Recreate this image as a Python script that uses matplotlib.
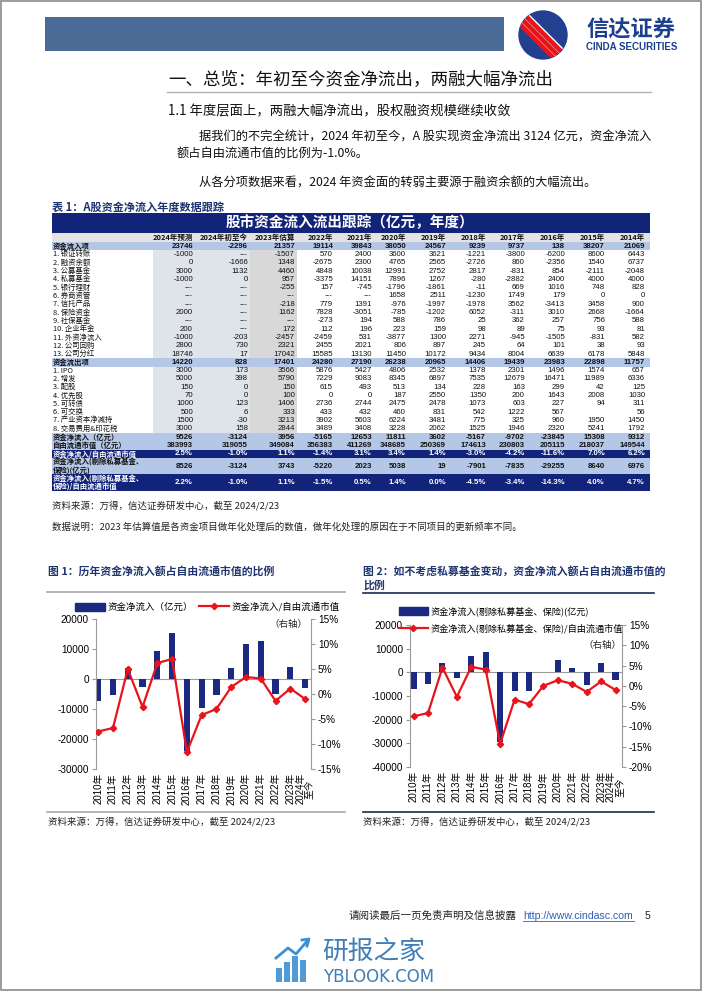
import numpy as np
import matplotlib
matplotlib.use('Agg')
import matplotlib.pyplot as plt
from matplotlib.patches import Rectangle, Circle, Patch
from matplotlib.lines import Line2D
from matplotlib.ticker import FuncFormatter

plt.rcParams['font.family'] = ['Noto Sans CJK SC', 'DejaVu Sans']
NUM_FONT = ['Liberation Sans', 'Noto Sans CJK SC']

W, H = 702, 991

# ---------------- 表 1 数据 ----------------
col_labels = ['2024年预测', '2024年初至今', '2023年估算', '2022年', '2021年', '2020年',
              '2019年', '2018年', '2017年', '2016年', '2015年', '2014年']
D = None   # 表中的 "---"

inflow_total = [23746, -2296, 21357, 19114, 39843, 38050, 24567, 9239, 9737, 138, 38207, 21069]
yinzheng = [-1000, D, -1507, 570, 2400, 3600, 3621, -1221, -3800, -6200, 8600, 6443]
rongzi = [0, -1666, 1348, -2675, 2300, 4765, 2565, -2726, 860, -2356, 1540, 6737]
gongmu = [3000, 1132, 4460, 4848, 10038, 12991, 2752, 2817, -831, 854, -2111, -2048]
simu = [-1000, 0, 957, -3375, 14151, 7896, 1267, -280, -2882, 2400, 4000, 4000]
licai = [D, D, -255, 157, -745, -1796, -1861, -11, 669, 1016, 748, 828]
quanshang = [D, D, D, D, D, 1658, 2511, -1230, 1749, 179, 0, 0]
xintuo = [D, D, -218, 779, 1391, -976, -1997, -1978, 3562, -3413, 3458, 900]
baoxian = [2000, D, 1162, 7828, -3051, -785, -1202, 6052, -311, 3010, 2668, -1664]
shebao = [D, D, D, -273, 194, 588, 786, 25, 362, 257, 756, 588]
nianjin = [200, D, 172, 112, 196, 223, 159, 98, 89, 75, 93, 81]
waizi = [-1000, -203, -2457, -2459, 531, -3877, 1300, 2271, -945, -1505, -831, 582]
huigou = [2800, 730, 2321, 2455, 2021, 806, 897, 245, 64, 101, 38, 93]
fenhong = [18746, 17, 17042, 15585, 13130, 11450, 10172, 9434, 8004, 6639, 6178, 5848]

outflow_total = [14220, 828, 17401, 24280, 27190, 26238, 20965, 14406, 19439, 23983, 22898, 11757]
ipo = [3000, 173, 3566, 5876, 5427, 4806, 2532, 1378, 2301, 1496, 1574, 657]
zengfa = [5000, 398, 5790, 7229, 9083, 8345, 6897, 7535, 12679, 16471, 11989, 6336]
peigu = [150, 0, 150, 615, 493, 513, 134, 228, 163, 299, 42, 125]
youxian = [70, 0, 100, 0, 0, 187, 2550, 1350, 200, 1643, 2008, 1030]
kezhuan = [1000, 123, 1406, 2736, 2744, 2475, 2478, 1073, 603, 227, 94, 311]
kejiaohuan = [500, 6, 333, 433, 432, 460, 831, 542, 1222, 567, '', 56]
jianchi = [1500, -30, 3213, 3902, 5603, 6224, 3481, 775, 325, 960, 1950, 1450]
feiyong = [3000, 158, 2844, 3489, 3408, 3228, 2062, 1525, 1946, 2320, 5241, 1792]

net_flow_tbl = [9526, -3124, 3956, -5165, 12653, 11811, 3602, -5167, -9702, -23845, 15308, 9312]
free_mv = [383993, 319055, 349084, 356383, 411269, 348685, 250369, 174613, 230803, 205115, 218037, 149544]
net_ratio = [2.5, -1.0, 1.1, -1.4, 3.1, 3.4, 1.4, -3.0, -4.2, -11.6, 7.0, 6.2]
net_ex = [8526, -3124, 3743, -5220, 2023, 5038, 19, -7901, -7835, -29255, 8640, 6976]
net_ex_ratio = [2.2, -1.0, 1.1, -1.5, 0.5, 1.4, 0.0, -4.5, -3.4, -14.3, 4.0, 4.7]

# ---------------- 图 1 / 图 2 数据 ----------------
years = ['2010年', '2011年', '2012年', '2013年', '2014年', '2015年', '2016年', '2017年',
         '2018年', '2019年', '2020年', '2021年', '2022年', '2023年', '2024年\n至今']
flow = [-7300, -5400, 3600, -2600, 9312, 15308, -23845, -9702, -5167, 3602, 11811, 12653,
        -5165, 3956, -3124]
flow_pct = [-7.5, -6.8, 5.0, -2.6, 6.2, 7.0, -11.6, -4.2, -3.0, 1.4, 3.4, 3.1, -1.4, 1.1, -1.0]
flow_ex = [-7200, -4900, 3800, -2400, 6976, 8640, -29255, -7835, -7901, 19, 5038, 2023,
           -5220, 3743, -3124]
flow_ex_pct = [-7.5, -6.7, 4.5, -2.7, 4.7, 4.0, -14.3, -3.4, -4.5, 0.0, 1.4, 0.5, -1.5, 1.1, -1.0]

NAVY = '#12237a'
BAR = '#1b2a80'
RED = '#e8141c'
BAND = '#b4c7e7'
CAP = '#1f3570'

fig = plt.figure(figsize=(W / 100, H / 100), dpi=100)
page = fig.add_axes([0, 0, 1, 1])
page.set_xlim(0, W)
page.set_ylim(H, 0)
page.axis('off')

# 页面边框
page.add_patch(Rectangle((0.5, 0.5), W - 1.5, H - 1.5, fill=False, ec='#8a8a8a', lw=1.2))

# ---------------- 页眉 ----------------
page.add_patch(Rectangle((45, 17), 459, 34, color='#4a6b95', lw=0))
logo = Circle((543, 35), 24, color='#233f8f')
page.add_patch(logo)
for dx in (-10, -3, 4):
    ln, = page.plot([515 + dx, 567 + dx], [9, 61], color=RED, lw=3.6, solid_capstyle='butt')
    ln.set_clip_path(logo)
    wl, = page.plot([519 + dx, 571 + dx], [9, 61], color='white', lw=1.0)
    wl.set_clip_path(logo)
page.text(631, 30, '信达证券', fontsize=16, fontweight='bold', color='#1d3f8f',
          ha='center', va='center')
page.text(632, 46.5, 'CINDA SECURITIES', fontsize=7, fontweight='bold', color='#1d3f8f',
          ha='center', va='center', family=NUM_FONT)

# ---------------- 正文 ----------------
page.text(168, 80, '一、总览：年初至今资金净流出，两融大幅净流出', fontsize=12.6,
          va='center', color='#111111')
page.plot([167, 651], [92, 92], color='#b0b0b0', lw=1)
page.text(168, 111, '1.1 年度层面上，两融大幅净流出，股权融资规模继续收敛', fontsize=9.6,
          va='center', color='#111111')
page.text(199, 137, '据我们的不完全统计，2024 年初至今，A 股实现资金净流出 3124 亿元，资金净流入',
          fontsize=8.8, va='center', color='#111111')
page.text(177, 154, '额占自由流通市值的比例为-1.0%。', fontsize=8.8, va='center', color='#111111')
page.text(199, 183, '从各分项数据来看，2024 年资金面的转弱主要源于融资余额的大幅流出。',
          fontsize=8.8, va='center', color='#111111')

# ---------------- 表 1 ----------------
page.text(52, 207, '表 1：A股资金净流入年度数据跟踪', fontsize=8, fontweight='bold',
          color=CAP, va='center')
TL, TR = 52, 650
page.add_patch(Rectangle((TL, 213), TR - TL, 19.5, color=NAVY, lw=0))
page.text(350, 222.5, '股市资金流入流出跟踪（亿元，年度）', fontsize=10.5, fontweight='bold',
          color='white', ha='center', va='center')
page.add_patch(Rectangle((TL, 232.5), TR - TL, 9.5, color='#e3e3e3', lw=0))
col_right = [193, 248, 295, 333, 372, 406, 446, 486, 525, 565, 605, 645]
for xr, lab in zip(col_right, col_labels):
    page.text(xr, 237.5, lab, fontsize=5.4, fontweight='bold', ha='right', va='center',
              color='#111111')

rows = [
    ('资金流入项', inflow_total, 'band'),
    ('1. 银证转账', yinzheng, ''), ('2. 融资余额', rongzi, ''), ('3. 公募基金', gongmu, ''),
    ('4. 私募基金', simu, ''), ('5. 银行理财', licai, ''), ('6. 券商资管', quanshang, ''),
    ('7. 信托产品', xintuo, ''), ('8. 保险资金', baoxian, ''), ('9. 社保基金', shebao, ''),
    ('10. 企业年金', nianjin, ''), ('11. 外资净流入', waizi, ''), ('12. 公司回购', huigou, ''),
    ('13. 公司分红', fenhong, ''),
    ('资金流出项', outflow_total, 'band'),
    ('1. IPO', ipo, ''), ('2. 增发', zengfa, ''), ('3. 配股', peigu, ''), ('4. 优先股', youxian, ''),
    ('5. 可转债', kezhuan, ''), ('6. 可交换', kejiaohuan, ''), ('7. 产业资本净减持', jianchi, ''),
    ('8. 交易费用&印花税', feiyong, ''),
    ('资金净流入（亿元）', net_flow_tbl, 'band'),
    ('自由流通市值（亿元）', free_mv, 'band'),
    ('资金净流入/自由流通市值', net_ratio, 'dark'),
    ('资金净流入(剔除私募基金、\n保险)(亿元)', net_ex, 'band'),
    ('资金净流入(剔除私募基金、\n保险)/自由流通市值', net_ex_ratio, 'dark'),
]

RH = 8.3
y = 242.0
for label, vals, style in rows:
    parts = label.split('\n')
    h = RH * len(parts)
    if style == 'band':
        page.add_patch(Rectangle((TL, y), TR - TL, h, color=BAND, lw=0, zorder=1))
    elif style == 'dark':
        page.add_patch(Rectangle((TL, y), TR - TL, h, color=NAVY, lw=0, zorder=1))
    else:
        page.add_patch(Rectangle((153, y), 97, h, color='#dfe3ea', lw=0, zorder=0))
        page.add_patch(Rectangle((250, y), 47, h, color='#d8d8d8', lw=0, zorder=0))
    tc = 'white' if style == 'dark' else '#111111'
    fw = 'bold' if style else 'normal'
    yc = y + h / 2
    for k, part in enumerate(parts):
        page.text(53, y + RH * (k + 0.5), part, fontsize=5.3, fontweight=fw, color=tc,
                  va='center', zorder=3)
    for xr, v in zip(col_right, vals):
        if v is None:
            s = '---'
        elif v == '':
            s = ''
        elif style == 'dark':
            s = f'{v:.1f}%'
        else:
            s = f'{v}'
        page.text(xr, yc, s, fontsize=5.6, fontweight=fw, color=tc, ha='right', va='center',
                  family=NUM_FONT, zorder=3)
    y += h

page.text(52, 506, '资料来源：万得，信达证券研发中心，截至 2024/2/23', fontsize=6.8,
          style='italic', color='#222222', va='center')
page.text(52, 527, '数据说明：2023 年估算值是各资金项目做年化处理后的数值，做年化处理的原因在于不同项目的更新频率不同。',
          fontsize=6.8, style='italic', color='#222222', va='center')

# ---------------- 图标题 ----------------
page.text(48, 571, '图 1：历年资金净流入额占自由流通市值的比例', fontsize=7.8,
          fontweight='bold', color=CAP, va='center')
page.text(363, 571, '图 2：如不考虑私募基金变动，资金净流入额占自由流通市值的', fontsize=7.8,
          fontweight='bold', color=CAP, va='center')
page.text(363, 585, '比例', fontsize=7.8, fontweight='bold', color=CAP, va='center')
page.plot([47, 345], [592, 592], color='#a8a8a8', lw=1.2)
page.plot([363, 654], [593, 593], color='#1c2a4f', lw=1.2)
page.plot([47, 345], [812, 812], color='#a8a8a8', lw=1.2)
page.plot([363, 654], [812, 812], color='#1c2a4f', lw=1.2)
page.text(48, 822, '资料来源：万得，信达证券研发中心，截至 2024/2/23', fontsize=6.8,
          style='italic', color='#222222', va='center')
page.text(363, 822, '资料来源：万得，信达证券研发中心，截至 2024/2/23', fontsize=6.8,
          style='italic', color='#222222', va='center')


def make_chart(box, bars, pct, ylim, yticks, plim, pticks, xlim):
    left, right, top, bottom = box
    ax = fig.add_axes([left / W, 1 - bottom / H, (right - left) / W, (bottom - top) / H])
    ax2 = ax.twinx()
    x = np.arange(len(years))
    ax.bar(x, bars, width=0.42, color=BAR, zorder=2)
    ax.axhline(0, color='#9a9a9a', lw=0.8, zorder=1)
    ax2.plot(x, pct, color=RED, lw=1.6, marker='D', markersize=3.2, zorder=3)
    ax.set_xlim(*xlim)
    ax.set_ylim(*ylim)
    ax.set_yticks(yticks)
    ax2.set_ylim(*plim)
    ax2.set_yticks(pticks)
    ax.yaxis.set_major_formatter(FuncFormatter(lambda v, p: f'{v:.0f}'))
    ax2.yaxis.set_major_formatter(FuncFormatter(lambda v, p: f'{v:.0f}%'))
    ax.set_xticks(x)
    ax.set_xticklabels(years, rotation=90, fontsize=7, family=NUM_FONT, linespacing=1.0)
    for a in (ax, ax2):
        for s in ('top', 'bottom'):
            a.spines[s].set_visible(False)
        a.patch.set_visible(False)
    ax.spines['right'].set_visible(False)
    ax.spines['left'].set_color('#9a9a9a')
    ax2.spines['right'].set_color('#9a9a9a')
    ax2.spines['left'].set_visible(False)
    ax.tick_params(axis='x', length=0, pad=3)
    ax.tick_params(axis='y', length=3, color='#9a9a9a', labelsize=7.2, pad=2)
    ax2.tick_params(axis='y', length=3, color='#9a9a9a', labelsize=7.2, pad=2)
    for t in ax.get_yticklabels() + ax2.get_yticklabels():
        t.set_family(NUM_FONT)
    return ax, ax2


make_chart((96, 311, 619, 769), flow, flow_pct, (-30000, 20000),
           np.arange(-30000, 20001, 10000), (-15, 15), np.arange(-15, 16, 5), (-0.15, 14.4))
make_chart((410, 622, 625, 767), flow_ex, flow_ex_pct, (-40000, 20000),
           np.arange(-40000, 20001, 10000), (-20, 15), np.arange(-20, 16, 5), (-0.25, 14.45))

bar_h = Patch(color=BAR)
line_h = Line2D([], [], color=RED, lw=1.6, marker='D', markersize=3.2)
fig.legend([bar_h, line_h], ['资金净流入（亿元）', '资金净流入/自由流通市值'],
           loc='center left', bbox_to_anchor=(70 / W, 1 - 607 / H), ncol=2, frameon=False,
           fontsize=6.8, handlelength=3.2, handleheight=0.9, handletextpad=0.3,
           columnspacing=0.6, borderpad=0)
fig.legend([bar_h, line_h], ['资金净流入(剔除私募基金、保险)(亿元)',
                             '资金净流入(剔除私募基金、保险)/自由流通市值'],
           loc='center left', bbox_to_anchor=(394 / W, 1 - 620 / H), ncol=1, frameon=False,
           fontsize=6.6, handlelength=3.2, handleheight=0.9, handletextpad=0.3,
           labelspacing=0.85, borderpad=0)
page.text(288, 624, '（右轴）', fontsize=6.8, ha='center', va='center', color='#222222')
page.text(602, 645, '（右轴）', fontsize=6.8, ha='center', va='center', color='#222222')

# ---------------- 页脚 ----------------
page.text(349, 916, '请阅读最后一页免责声明及信息披露', fontsize=7.6, va='center',
          color='#222222')
page.text(523, 916, 'http://www.cindasc.com', fontsize=7.6, va='center', color='#2f5fb3',
          family=NUM_FONT)
page.plot([523, 634], [921, 921], color='#2f5fb3', lw=0.6)
page.text(645, 916, '5', fontsize=7.6, va='center', color='#222222', family=NUM_FONT)

# 水印
WM = '#3d8fd1'
for i, hh in enumerate([14, 20, 26, 22]):
    page.add_patch(Rectangle((276 + i * 8, 982 - hh), 5.5, hh, color=WM, lw=0, alpha=0.9))
page.plot([276, 288, 296, 308], [958, 948, 954, 940], color=WM, lw=2)
page.plot([302, 309, 307], [940, 939, 946], color=WM, lw=2)
page.text(322, 952, '研报之家', fontsize=18.5, color='#2c6fae', va='center', alpha=0.9)
page.text(323, 977, 'YBLOOK.COM', fontsize=12, color='#2c6fae', va='center',
          family=['DejaVu Sans'], alpha=0.9)

fig.savefig('out.png', dpi=100)
